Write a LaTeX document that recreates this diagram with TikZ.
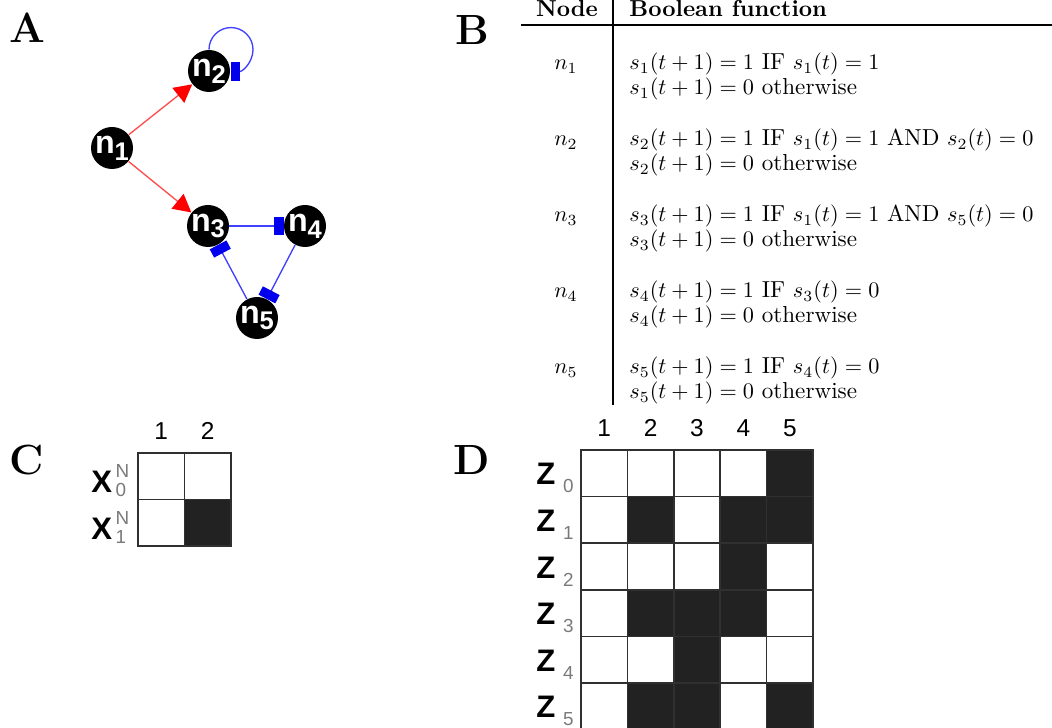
\documentclass[tikz,border=0pt]{standalone}
\usepackage{fontspec}
\newfontfamily\arial{Liberation Sans}
\usetikzlibrary{arrows.meta, positioning}
\definecolor{Act_Red}{HTML}{FF4D4D}
\definecolor{Act_Head}{HTML}{FF0000}
\definecolor{Inh_Blue}{HTML}{4040FF}
\definecolor{Inh_Bar}{HTML}{0000EE}
\definecolor{Cell_Dark}{HTML}{222222}
\definecolor{Grid_Line}{HTML}{303030}
\definecolor{Sub_Gray}{HTML}{7A7A7A}

\tikzset{
  gene/.style={circle, fill=black, minimum size=18.9pt, inner sep=0pt, text=white, font=\arial\bfseries\fontsize{14.5}{14.5}\selectfont},
  act/.style={draw=Act_Red, line width=0.6pt, -{Triangle[length=8pt, width=8.5pt, color=Act_Head]}},
  inh/.style={draw=Inh_Blue, line width=0.6pt, -{Rectangle[length=4.2pt, width=8.5pt, color=Inh_Bar]}},
  panel/.style={font=\fontsize{19}{22}\selectfont\bfseries},
  cell/.style={draw=Grid_Line, line width=0.7pt},
  colnum/.style={font=\arial\fontsize{11}{12}\selectfont, anchor=base},
  rowlab/.style={font=\arial\fontsize{14}{15}\selectfont\bfseries, anchor=base west, inner sep=0pt},
  fn/.style={anchor=base west, inner sep=0pt, font=\fontsize{10.4}{12}\selectfont},
}
\newcommand{\gname}[1]{n\raisebox{-3pt}{\fontsize{11.5}{11.5}\selectfont #1}}
\newcommand{\zlab}[1]{Z\hspace{3.5pt}\textcolor{Sub_Gray}{\mdseries\fontsize{8.5}{8.5}\selectfont\raisebox{-3.6pt}{#1}}}
\newcommand{\xlab}[1]{X\hspace{1.5pt}\textcolor{Sub_Gray}{\mdseries\fontsize{8.5}{8.5}\selectfont\rlap{\raisebox{6.8pt}{N}}\raisebox{-1.8pt}{#1}}}

\begin{document}
\begin{tikzpicture}[x=0.45pt, y=0.45pt]
    \useasboundingbox (0,0) rectangle (1052,-728);

    % Panel A: the network
    \node[panel] (labA) at (27,-28) {A};
    \node[gene] (n1) at (112,-148) {\gname{1}};
    \node[gene] (n2) at (209,-71) {\gname{2}};
    \node[gene] (n3) at (208,-226) {\gname{3}};
    \node[gene] (n4) at (305,-226) {\gname{4}};
    \node[gene] (n5) at (257,-318) {\gname{5}};

    % activation
    \draw[act] (n1) -- (n2);
    \draw[act] (n1) -- (n3);
    % inhibition
    \draw[inh] (n3) -- (n4);
    \draw[inh] (n4) -- (n5);
    \draw[inh] (n5) -- (n3);
    \draw[inh] (n2.north) arc[start angle=180, end angle=-90, radius=22];

    % Panel B: the rules
    \node[panel] (labB) at (472,-30) {B};
    \draw[line width=0.6pt] (613,0) -- (613,-405);
    \draw[line width=0.6pt] (521,-25) -- (1052,-25);
    \node[fn, anchor=base, font=\fontsize{10.4}{12}\selectfont\bfseries] (hdNode) at (567,-17) {Node};
    \node[fn, font=\fontsize{10.4}{12}\selectfont\bfseries] (hdFun) at (629,-17) {Boolean function};

    \foreach \i/\cond [count=\k from 0] in {1/{$s_1(t)=1$}, 2/{$s_1(t)=1$ AND $s_2(t)=0$}, 3/{$s_1(t)=1$ AND $s_5(t)=0$}, 4/{$s_3(t)=0$}, 5/{$s_4(t)=0$}} {
        \node[fn, anchor=base] (nm\i) at (566,-70-76*\k) {$n_{\i}$};
        \node[fn] (fa\i) at (629,-70-76*\k) {$s_{\i}(t+1)=1$ IF \cond};
        \node[fn] (fb\i) at (629,-95-76*\k) {$s_{\i}(t+1)=0$ otherwise};
    }

    % Panel C: the attractor
    \node[panel] (labC) at (27,-460) {C};
    \foreach \c in {0,1}
        \foreach \r in {0,1}
            \draw[cell] (138+46.5*\c,-453-46.5*\r) rectangle ++(46.5,-46.5);
    \draw[cell, fill=Cell_Dark] (138+46.5,-453-46.5) rectangle ++(46.5,-46.5);
    \foreach \c in {1,2}
        \node[colnum] (cc\c) at (138+46.5*\c-23.25,-440) {\c};
    \foreach \r in {0,1}
        \node[rowlab] (cx\r) at (91,-493-46.5*\r) {\xlab{\r}};

    % Panel D: the trajectory
    \node[panel] (labD) at (472,-460) {D};
    \foreach \c in {0,...,4}
        \foreach \r in {0,...,5}
            \draw[cell] (581+46.4*\c,-450-46.6*\r) rectangle ++(46.4,-46.6);
    \foreach \c/\r in {4/0, 1/1, 3/1, 4/1, 3/2, 1/3, 2/3, 3/3, 2/4, 1/5, 2/5, 4/5}
        \draw[cell, fill=Cell_Dark] (581+46.4*\c,-450-46.6*\r) rectangle ++(46.4,-46.6);
    \foreach \c in {1,...,5}
        \node[colnum] (dc\c) at (581+46.4*\c-23.2,-437) {\c};
    \foreach \r in {0,...,5}
        \node[rowlab] (dz\r) at (536,-485-46.6*\r) {\zlab{\r}};
\end{tikzpicture}
\end{document}
